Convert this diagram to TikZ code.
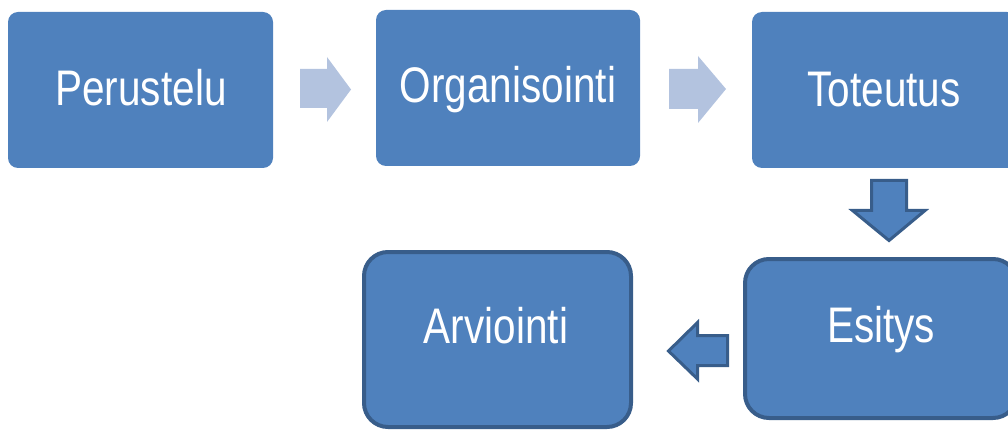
\documentclass[tikz,border=0pt]{standalone}
\usepackage{fontspec}
\setmainfont[FakeStretch=0.81]{Liberation Sans}
\definecolor{boxfill}{HTML}{4F81BD}
\definecolor{boxedge}{HTML}{385D8A}
\definecolor{lightarrow}{HTML}{B3C3DF}
\begin{document}
\begin{tikzpicture}[x=1pt,y=-1pt,
  flatbox/.style={rectangle, fill=boxfill, draw=none, rounded corners=10pt, inner sep=0pt},
  edgebox/.style={rectangle, fill=boxfill, draw=boxedge, line width=4pt, rounded corners=24pt, inner sep=0pt},
  lbl/.style={anchor=base, text=white, inner sep=0pt, font=\fontsize{50}{60}\selectfont},
  lightarr/.style={fill=lightarrow, draw=none},
  darkarr/.style={fill=boxfill, draw=boxedge, line width=3pt, line join=miter}]
\useasboundingbox (0,0) rectangle (1008,430);
\clip (0,0) rectangle (1008,430);
% boxes
\node[flatbox, minimum width=265pt, minimum height=156pt] (b1) at (140.5,90) {};
\node[flatbox, minimum width=264pt, minimum height=156pt] (b2) at (508,88) {};
\node[flatbox, minimum width=265pt, minimum height=156pt] (b3) at (884.5,90) {};
\node[edgebox, minimum width=272pt, minimum height=159pt] (b4) at (881,338.5) {};
\node[edgebox, minimum width=267pt, minimum height=175pt] (b5) at (497.5,339.5) {};
% labels
\node[lbl] (t1) at (141,106) {Perustelu};
\node[lbl] (t2) at (508,103) {Organisointi};
\node[lbl] (t3) at (884,107) {Toteutus};
\node[lbl] (t4) at (881,342) {Esitys};
\node[lbl] (t5) at (496,343) {Arviointi};
% block arrows
\path[lightarr] (300,69) -- (327,69) -- (327,57) -- (351,89.5) -- (327,122) -- (327,108) -- (300,108) -- cycle;
\path[lightarr] (669,69) -- (698,69) -- (698,56) -- (726,89) -- (698,123) -- (698,109) -- (669,109) -- cycle;
\draw[darkarr] (871.5,180.5) -- (906.5,180.5) -- (906.5,210.5) -- (925,210.5) -- (889,240.5) -- (852.5,210.5) -- (871.5,210.5) -- cycle;
\draw[darkarr] (727.5,335.5) -- (727.5,365.5) -- (697.5,365.5) -- (697.5,379) -- (668.5,351) -- (697.5,322.5) -- (697.5,335.5) -- cycle;
\end{tikzpicture}
\end{document}
